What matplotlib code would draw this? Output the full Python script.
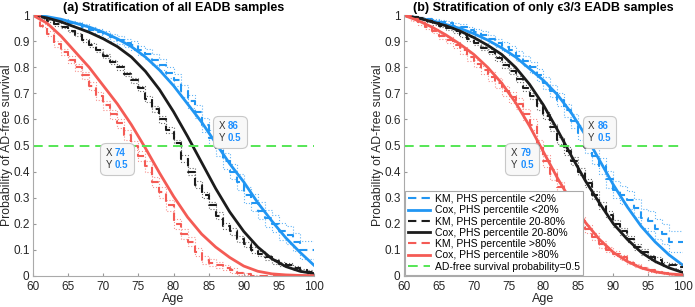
import numpy as np
import matplotlib.pyplot as plt
from matplotlib.ticker import FuncFormatter
from matplotlib.offsetbox import TextArea, HPacker, AnnotationBbox

plt.rcParams['font.family'] = ['Liberation Sans', 'DejaVu Sans']

km_age = np.arange(60, 101)
cox_age = np.arange(60, 101, 2)

groups = ['low', 'mid', 'high']
group_names = ['<20%', '20-80%', '>80%']

# (a) all EADB samples
km_a = {
    'low': [1, .995, .99, .985, .98, .97, .965, .955, .945, .935,
            .925, .915, .905, .895, .885, .865, .85, .83, .81, .78,
            .75, .71, .67, .63, .58, .53, .49, .44, .40, .36,
            .31, .28, .25, .22, .20, .17, .155, .13, .10, .10,
            .10],
    'mid': [1, .99, .98, .965, .955, .94, .925, .905, .885, .865,
            .845, .82, .80, .775, .75, .72, .68, .64, .60, .56,
            .51, .45, .40, .35, .31, .27, .23, .19, .17, .14,
            .12, .10, .085, .07, .055, .045, .04, .03, .02, .015,
            .01],
    'high': [1, .96, .93, .89, .86, .83, .80, .77, .73, .69,
             .655, .62, .585, .54, .50, .46, .42, .36, .32, .27,
             .20, .16, .13, .09, .06, .05, .04, .03, .02, .01,
             .005, 0, 0, 0, 0, 0, 0, 0, 0, 0,
             0],
}
ci_a = {
    'low': [0, .004, .005, .006, .007, .008, .009, .01, .011, .012,
            .013, .014, .015, .016, .017, .018, .019, .02, .021, .022,
            .023, .024, .025, .026, .027, .028, .029, .03, .03, .031,
            .031, .032, .032, .033, .033, .034, .034, .035, .035, .035,
            .035],
    'mid': [0, .003, .004, .004, .005, .005, .006, .006, .007, .007,
            .008, .008, .009, .009, .01, .01, .011, .011, .012, .012,
            .012, .013, .013, .013, .013, .013, .013, .012, .012, .012,
            .011, .011, .01, .01, .009, .009, .008, .008, .007, .007,
            .007],
    'high': [0, .006, .008, .01, .011, .012, .013, .014, .015, .016,
             .017, .017, .018, .018, .019, .019, .02, .02, .02, .02,
             .019, .018, .017, .016, .015, .013, .012, .01, .008, .006,
             .004, .002, 0, 0, 0, 0, 0, 0, 0, 0,
             0],
}
cox_a = {
    'low': [1, .995, .985, .97, .955, .935, .91, .88, .84, .79, .73,
            .66, .59, .51, .43, .36, .28, .21, .145, .09, .04],
    'mid': [1, .99, .975, .955, .935, .91, .88, .84, .785, .715, .63,
            .535, .435, .335, .245, .17, .11, .065, .035, .017, .008],
    'high': [1, .97, .92, .86, .80, .73, .66, .58, .49, .395, .305,
             .225, .16, .11, .07, .037, .017, .007, .003, .001, 0],
}

# (b) only e3/3 EADB samples
km_b = {
    'low': [1, .995, .99, .985, .98, .975, .97, .96, .955, .945,
            .935, .925, .91, .895, .88, .865, .845, .825, .80, .77,
            .74, .71, .675, .635, .595, .55, .50, .46, .42, .37,
            .33, .31, .29, .26, .22, .21, .18, .16, .13, .13,
            .13],
    'mid': [1, .995, .99, .98, .97, .96, .95, .94, .925, .91,
            .895, .875, .86, .835, .81, .785, .755, .72, .69, .65,
            .615, .57, .52, .48, .44, .40, .355, .31, .27, .235,
            .20, .17, .14, .11, .09, .07, .06, .045, .04, .035,
            .03],
    'high': [1, .985, .97, .955, .94, .92, .905, .885, .865, .84,
             .815, .79, .765, .74, .71, .685, .66, .62, .58, .50,
             .44, .39, .34, .28, .24, .21, .18, .15, .12, .10,
             .085, .07, .05, .04, .03, .02, .015, .01, .005, .003,
             .002],
}
ci_b = {
    'low': [0, .004, .005, .006, .007, .008, .009, .01, .011, .012,
            .013, .014, .015, .016, .017, .018, .019, .02, .021, .022,
            .023, .024, .025, .026, .027, .028, .029, .03, .031, .032,
            .033, .034, .035, .036, .037, .038, .039, .04, .04, .04,
            .04],
    'mid': [0, .003, .004, .005, .006, .006, .007, .007, .008, .008,
            .009, .009, .01, .01, .011, .011, .012, .012, .013, .013,
            .014, .014, .014, .015, .015, .015, .015, .015, .014, .014,
            .013, .013, .012, .012, .011, .01, .01, .009, .009, .008,
            .008],
    'high': [0, .005, .007, .008, .009, .01, .011, .012, .013, .014,
             .015, .016, .017, .018, .019, .02, .021, .022, .022, .022,
             .022, .021, .02, .019, .018, .017, .016, .014, .012, .01,
             .009, .008, .007, .006, .005, .004, .003, .002, .002, .001,
             .001],
}
cox_b = {
    'low': [1, .99, .98, .965, .95, .93, .905, .875, .84, .795, .75,
            .695, .625, .54, .445, .35, .265, .19, .13, .08, .04],
    'mid': [1, .99, .975, .96, .94, .915, .885, .85, .80, .735, .655,
            .56, .46, .365, .28, .20, .14, .09, .055, .03, .012],
    'high': [1, .98, .955, .925, .89, .85, .80, .74, .665, .575, .475,
             .375, .285, .205, .14, .09, .055, .03, .015, .007, .003],
}

tips_a = [(86, 0.5, '86', '0.5', 'ur'), (74, 0.5, '74', '0.5', 'll')]
tips_b = [(86, 0.5, '86', '0.5', 'ur'), (79, 0.5, '79', '0.5', 'll')]

colors = {'low': '#2196F3', 'mid': '#1c1c1c', 'high': '#F45B55'}
ci_colors = {'low': '#64B5F6', 'mid': '#6b6b6b', 'high': '#F79490'}


def datatip(ax, x, y, xs, ys, where):
    ax.plot(x, y, 'o', ms=2.2, color='k', zorder=7)
    lab = TextArea('X\nY', textprops=dict(color='#333333', fontsize=7))
    val = TextArea(xs + '\n' + ys, textprops=dict(color='#1E8FFF', fontsize=7,
                                                  fontweight='bold'))
    pack = HPacker(children=[lab, val], pad=0, sep=2, align='top')
    if where == 'ur':
        off, align = (2, 2), (0, 0)
    else:
        off, align = (-2, -2), (1, 1)
    ab = AnnotationBbox(pack, (x, y), xybox=off, xycoords='data',
                        boxcoords='offset points', box_alignment=align,
                        pad=0.4, zorder=8,
                        bboxprops=dict(boxstyle='round,pad=0.4', fc='#f8f8f8',
                                       ec='#c8c8c8', lw=0.8))
    ax.add_artist(ab)


def draw(ax, km, ci, cox, title, tips):
    for g, name in zip(groups, group_names):
        k = np.array(km[g])
        c = np.array(ci[g])
        ax.step(km_age, np.clip(k + c, 0, 1), where='post', ls=':', lw=0.8,
                color=ci_colors[g])
        ax.step(km_age, np.clip(k - c, 0, 1), where='post', ls=':', lw=0.8,
                color=ci_colors[g])
        ax.step(km_age, k, where='post', ls='--', lw=1.5, color=colors[g],
                dashes=(4, 2.5), label='KM, PHS percentile ' + name)
        ax.plot(cox_age, cox[g], lw=2, color=colors[g],
                label='Cox, PHS percentile ' + name)
    ax.axhline(0.5, color='#55E655', lw=1.4, ls='--', dashes=(5, 3),
               label='AD-free survival probability=0.5')
    for x, y, xs, ys, where in tips:
        datatip(ax, x, y, xs, ys, where)

    ax.set_xlim(60, 100)
    ax.set_ylim(0, 1)
    ax.set_xticks(np.arange(60, 101, 5))
    ax.set_yticks(np.arange(0, 1.01, 0.1))
    ax.yaxis.set_major_formatter(FuncFormatter(lambda v, p: '%g' % round(v, 1)))
    ax.tick_params(direction='in', length=2.5, labelsize=8.5,
                   colors='#999999', labelcolor='#262626')
    ax.tick_params(axis='x', pad=4)
    ax.tick_params(axis='y', pad=2.5)
    for s in ['top', 'right']:
        ax.spines[s].set_visible(False)
    for s in ['left', 'bottom']:
        ax.spines[s].set_color('#aaaaaa')
        ax.spines[s].set_linewidth(0.8)
    ax.set_xlabel('Age', fontsize=9, color='#262626', labelpad=0)
    ax.set_ylabel('Probability of AD-free survival', fontsize=8.8,
                  color='#262626', labelpad=0)
    ax.set_title(title, fontsize=9, fontweight='bold', pad=3)


fig = plt.figure(figsize=(6.95, 3.07), dpi=100)
axA = fig.add_axes([0.0475, 0.102, 0.4043, 0.848])
axB = fig.add_axes([0.5813, 0.102, 0.4014, 0.848])

draw(axA, km_a, ci_a, cox_a, '(a) Stratification of all EADB samples', tips_a)
draw(axB, km_b, ci_b, cox_b, '(b) Stratification of only \u03f53/3 EADB samples', tips_b)

leg = axB.legend(loc='lower left', bbox_to_anchor=(0, 0), borderaxespad=0.1,
                 fontsize=7.5, handlelength=2.1, labelspacing=0.12,
                 borderpad=0.3, handletextpad=0.5, fancybox=False,
                 framealpha=1, edgecolor='#aaaaaa')
leg.get_frame().set_linewidth(0.8)

fig.savefig('out.png', dpi=100)
